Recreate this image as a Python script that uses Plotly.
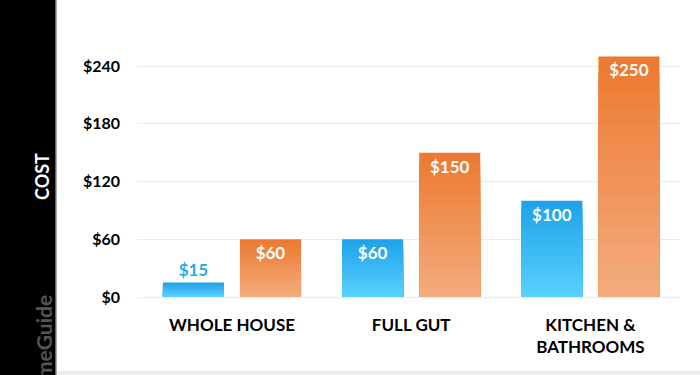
import plotly.graph_objects as go

categories = ["WHOLE HOUSE", "FULL GUT", "KITCHEN &<br>BATHROOMS"]
low_values = [15, 60, 100]
high_values = [60, 150, 250]
y_ticks = [0, 60, 120, 180, 240]
y_tick_text = ["$0", "$60", "$120", "$180", "$240"]

FONT = "Lato"
BLUE_TOP, BLUE_BOTTOM = (31, 163, 234), (88, 207, 253)
ORANGE_TOP, ORANGE_BOTTOM = (236, 122, 50), (243, 171, 124)
N_BANDS = 14


def mix(c1, c2, t):
    return "rgb({},{},{})".format(*[round(a + (b - a) * t) for a, b in zip(c1, c2)])


fig = go.Figure()


def add_series(values, name, top, bottom, out_color):
    # gradient: overlapping bars in the same offset group, lighter toward base
    for k in range(N_BANDS):
        frac = 1 - k / N_BANDS
        fig.add_trace(go.Bar(
            x=categories, y=[v * frac for v in values], offsetgroup=name,
            marker=dict(color=mix(top, bottom, k / (N_BANDS - 1)), line=dict(width=0)),
            hoverinfo="skip", showlegend=False,
        ))
    fig.add_trace(go.Bar(
        x=categories, y=values, offsetgroup=name, name=name,
        marker=dict(color="rgba(0,0,0,0)", line=dict(width=0)),
        text=[f"${v}" for v in values],
        textposition="auto", insidetextanchor="end", constraintext="none",
        insidetextfont=dict(color="white", size=17, family=FONT, weight="bold"),
        outsidetextfont=dict(color=out_color, size=17, family=FONT, weight="bold"),
        cliponaxis=False, showlegend=False,
    ))


add_series(low_values, "low", BLUE_TOP, BLUE_BOTTOM, "#2aaae8")
add_series(high_values, "high", ORANGE_TOP, ORANGE_BOTTOM, "#ec7a32")

# left black band
fig.add_shape(type="rect", xref="paper", yref="paper",
              x0=-0.2523, x1=-0.1492, y0=-1.0, y1=1.3,
              fillcolor="black", line=dict(width=0), layer="below")
fig.add_shape(type="line", xref="paper", yref="paper",
              x0=-0.149, x1=-0.149, y0=-1.0, y1=1.3,
              line=dict(color="#9a9a9a", width=1.5), layer="below")
# bottom grey band
fig.add_shape(type="rect", xref="paper", yref="paper",
              x0=-0.147, x1=1.1, y0=-0.33, y1=-0.30,
              fillcolor="#ececec", line=dict(width=0), layer="below")

fig.add_annotation(text="COST", xref="paper", yref="paper",
                   x=-0.198, y=0.49, textangle=-90, showarrow=False,
                   font=dict(color="white", size=18, family=FONT, weight="bold"))
fig.add_annotation(text="HomeGuide", xref="paper", yref="paper",
                   x=-0.198, y=-0.455, textangle=-90, showarrow=False,
                   font=dict(color="#555555", size=21, family=FONT, weight="bold"))

fig.update_layout(
    width=700, height=375,
    margin=dict(l=137, r=20, t=51, b=78),
    paper_bgcolor="white", plot_bgcolor="white",
    barmode="group", bargap=0.14, bargroupgap=0.208,
    showlegend=False,
    font=dict(family=FONT, color="black"),
)
fig.update_xaxes(range=[-0.53, 2.5], showgrid=False, zeroline=False,
                 showline=False, ticks="", ticklabelstandoff=16,
                 tickfont=dict(size=17, family=FONT, weight="bold", color="black"))
fig.update_yaxes(range=[0, 255.6], tickvals=y_ticks, ticktext=y_tick_text,
                 showgrid=True, gridcolor="#ebebeb", gridwidth=1,
                 zeroline=True, zerolinecolor="#ebebeb", zerolinewidth=1,
                 showline=False, ticks="", ticklabelstandoff=16,
                 tickfont=dict(size=16, family=FONT, weight="bold", color="black"))

fig.write_html("out.html", config={"displayModeBar": False},
               post_script="document.body.style.margin='0';")
